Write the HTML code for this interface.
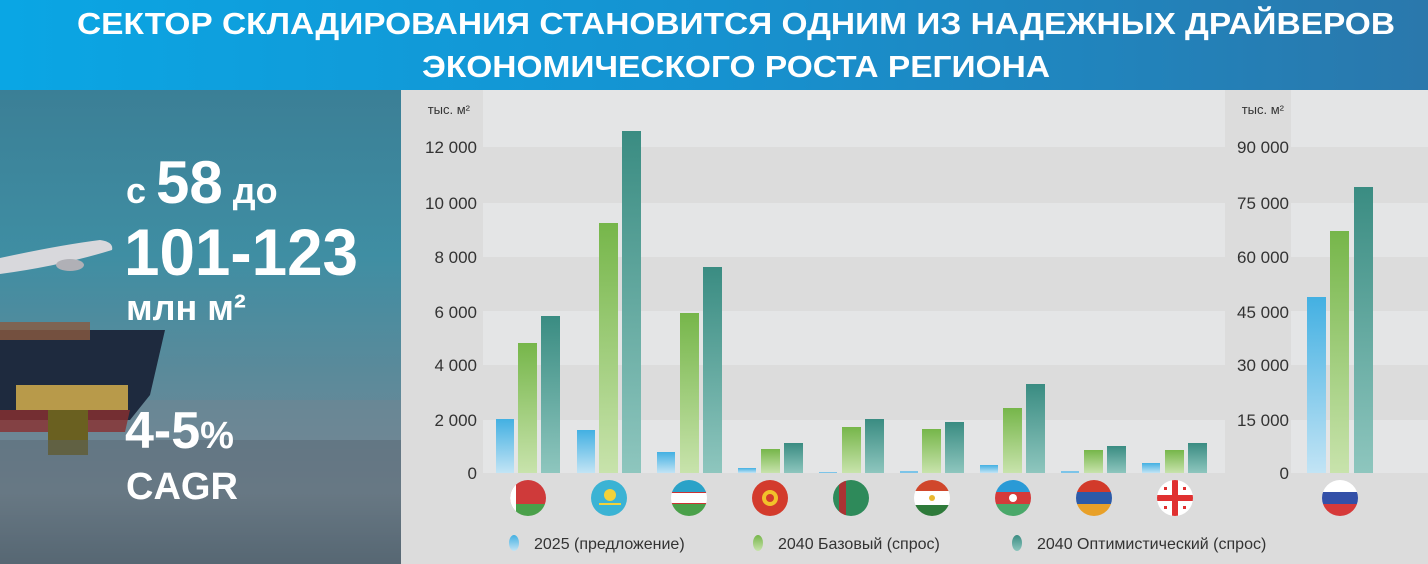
<!DOCTYPE html>
<html><head><meta charset="utf-8"><style>
html,body{margin:0;padding:0;width:1428px;height:564px;overflow:hidden;background:#dcdcdc}
svg{display:block}
</style></head><body>
<svg width="1428" height="564" viewBox="0 0 1428 564" xmlns="http://www.w3.org/2000/svg" font-family="'Liberation Sans', sans-serif">
<defs>
<linearGradient id="hdr" x1="0" x2="1" y1="0" y2="0"><stop offset="0" stop-color="#0aa6e4"/><stop offset="0.5" stop-color="#1692d0"/><stop offset="1" stop-color="#2a78ac"/></linearGradient>
<linearGradient id="sky" x1="0" x2="0" y1="0" y2="1"><stop offset="0" stop-color="#3b7f96"/><stop offset="0.35" stop-color="#3f8ea3"/><stop offset="0.6" stop-color="#5b8a9a"/><stop offset="0.75" stop-color="#6c8898"/><stop offset="0.85" stop-color="#7d8d99"/><stop offset="1" stop-color="#3e4e5c"/></linearGradient>
<linearGradient id="gb" x1="0" x2="0" y1="0" y2="1"><stop offset="0" stop-color="#43b0e2"/><stop offset="1" stop-color="#c2e4f5"/></linearGradient>
<linearGradient id="gg" x1="0" x2="0" y1="0" y2="1"><stop offset="0" stop-color="#76b64a"/><stop offset="1" stop-color="#c8e3ac"/></linearGradient>
<linearGradient id="gt" x1="0" x2="0" y1="0" y2="1"><stop offset="0" stop-color="#3a8c82"/><stop offset="1" stop-color="#8ec6be"/></linearGradient>
<clipPath id="c1"><circle cx="0" cy="0" r="18"/></clipPath>
</defs>
<rect x="0" y="0" width="1428" height="90" fill="url(#hdr)"/>
<text x="736" y="34" font-size="31" font-weight="bold" fill="#fff" text-anchor="middle" textLength="1318" lengthAdjust="spacingAndGlyphs">СЕКТОР СКЛАДИРОВАНИЯ СТАНОВИТСЯ ОДНИМ ИЗ НАДЕЖНЫХ ДРАЙВЕРОВ</text>
<text x="736" y="77" font-size="31" font-weight="bold" fill="#fff" text-anchor="middle" textLength="628" lengthAdjust="spacingAndGlyphs">ЭКОНОМИЧЕСКОГО РОСТА РЕГИОНА</text>
<!-- left photo -->
<rect x="0" y="90" width="401" height="474" fill="url(#sky)"/>
<rect x="0" y="400" width="401" height="164" fill="#6f8592" opacity="0.5"/>
<path d="M0 330 L165 330 L150 395 L130 420 L0 420 Z" fill="#1e2a3e"/>
<rect x="0" y="322" width="90" height="18" fill="#8a5a40" opacity="0.8"/>
<path d="M0 410 L130 410 L125 432 L0 432Z" fill="#8a2f2f" opacity="0.8"/>
<rect x="16" y="385" width="112" height="25" fill="#b89a4a"/>
<rect x="48" y="410" width="40" height="45" fill="#6a6020"/>
<path d="M0 258 Q60 245 100 240 Q114 242 112 250 Q60 266 0 274Z" fill="#d8d8dc"/>
<ellipse cx="70" cy="265" rx="14" ry="6" fill="#b0b0b6"/>
<path d="M0 440 L401 440 L401 564 L0 564Z" fill="#56636f" opacity="0.45"/>
<text x="126" y="203" font-size="36" font-weight="bold" fill="#fff">с <tspan font-size="60">58</tspan> до</text>
<text x="124" y="275" font-size="66" font-weight="bold" fill="#fff" textLength="234" lengthAdjust="spacingAndGlyphs">101-123</text>
<text x="126" y="320" font-size="36" font-weight="bold" fill="#fff">млн м²</text>
<text x="125" y="448" font-size="52" font-weight="bold" fill="#fff">4-5<tspan font-size="38">%</tspan></text>
<text x="126" y="499" font-size="38" font-weight="bold" fill="#fff">CAGR</text>
<!-- chart background -->
<rect x="401" y="90" width="1027" height="474" fill="#dcdcdc"/>
<g fill="#e4e5e6">
<rect x="483" y="90" width="742" height="57"/><rect x="483" y="203" width="742" height="54"/><rect x="483" y="311" width="742" height="54"/><rect x="483" y="420" width="742" height="53"/>
<rect x="1291" y="90" width="137" height="57"/><rect x="1291" y="203" width="137" height="54"/><rect x="1291" y="311" width="137" height="54"/><rect x="1291" y="420" width="137" height="53"/>
</g>
<g font-size="17" fill="#333" text-anchor="end">
<text x="470" y="114" font-size="13">тыс. м²</text>
<text x="477" y="153">12 000</text><text x="477" y="209">10 000</text><text x="477" y="263">8 000</text><text x="477" y="318">6 000</text><text x="477" y="371">4 000</text><text x="477" y="426">2 000</text><text x="477" y="479">0</text>
<text x="1284" y="114" font-size="13">тыс. м²</text>
<text x="1289" y="153">90 000</text><text x="1289" y="209">75 000</text><text x="1289" y="263">60 000</text><text x="1289" y="318">45 000</text><text x="1289" y="371">30 000</text><text x="1289" y="426">15 000</text><text x="1289" y="479">0</text>
</g>
<!-- bars -->
<g>
<rect x="496" y="419" width="18" height="54" fill="url(#gb)"/><rect x="518" y="343" width="19" height="130" fill="url(#gg)"/><rect x="541" y="316" width="19" height="157" fill="url(#gt)"/>
<rect x="577" y="430" width="18" height="43" fill="url(#gb)"/><rect x="599" y="223" width="19" height="250" fill="url(#gg)"/><rect x="622" y="131" width="19" height="342" fill="url(#gt)"/>
<rect x="657" y="452" width="18" height="21" fill="url(#gb)"/><rect x="680" y="313" width="19" height="160" fill="url(#gg)"/><rect x="703" y="267" width="19" height="206" fill="url(#gt)"/>
<rect x="738" y="468" width="18" height="5" fill="url(#gb)"/><rect x="761" y="449" width="19" height="24" fill="url(#gg)"/><rect x="784" y="443" width="19" height="30" fill="url(#gt)"/>
<rect x="819" y="472" width="18" height="1" fill="#7cc4e8"/><rect x="842" y="427" width="19" height="46" fill="url(#gg)"/><rect x="865" y="419" width="19" height="54" fill="url(#gt)"/>
<rect x="900" y="471" width="18" height="2" fill="#7cc4e8"/><rect x="922" y="429" width="19" height="44" fill="url(#gg)"/><rect x="945" y="422" width="19" height="51" fill="url(#gt)"/>
<rect x="980" y="465" width="18" height="8" fill="url(#gb)"/><rect x="1003" y="408" width="19" height="65" fill="url(#gg)"/><rect x="1026" y="384" width="19" height="89" fill="url(#gt)"/>
<rect x="1061" y="471" width="18" height="2" fill="#7cc4e8"/><rect x="1084" y="450" width="19" height="23" fill="url(#gg)"/><rect x="1107" y="446" width="19" height="27" fill="url(#gt)"/>
<rect x="1142" y="463" width="18" height="10" fill="url(#gb)"/><rect x="1165" y="450" width="19" height="23" fill="url(#gg)"/><rect x="1188" y="443" width="19" height="30" fill="url(#gt)"/>
<rect x="1307" y="297" width="19" height="176" fill="url(#gb)"/><rect x="1330" y="231" width="19" height="242" fill="url(#gg)"/><rect x="1354" y="187" width="19" height="286" fill="url(#gt)"/>
</g>
<!-- flags -->
<g transform="translate(528,498)"><g clip-path="url(#c1)"><rect x="-18" y="-18" width="36" height="24" fill="#cf3a3a"/><rect x="-18" y="6" width="36" height="12" fill="#4aa04a"/><rect x="-18" y="-18" width="6" height="36" fill="#fff"/></g></g>
<g transform="translate(609,498)"><g clip-path="url(#c1)"><rect x="-18" y="-18" width="36" height="36" fill="#3bb3d4"/><circle cx="1" cy="-3" r="6" fill="#f2d23a"/><rect x="-10" y="5" width="22" height="2" fill="#f2d23a"/></g></g>
<g transform="translate(689,498)"><g clip-path="url(#c1)"><rect x="-18" y="-18" width="36" height="12" fill="#2aa2c8"/><rect x="-18" y="-6" width="36" height="12" fill="#fff"/><rect x="-18" y="6" width="36" height="12" fill="#4aa04a"/><rect x="-18" y="-6" width="36" height="1" fill="#c33"/><rect x="-18" y="5" width="36" height="1" fill="#c33"/></g></g>
<g transform="translate(770,498)"><g clip-path="url(#c1)"><rect x="-18" y="-18" width="36" height="36" fill="#d33b2c"/><circle cx="0" cy="0" r="8" fill="#f2c22a"/><circle cx="0" cy="0" r="4" fill="#d33b2c"/></g></g>
<g transform="translate(851,498)"><g clip-path="url(#c1)"><rect x="-18" y="-18" width="36" height="36" fill="#2e8a5a"/><rect x="-12" y="-18" width="7" height="36" fill="#a33"/></g></g>
<g transform="translate(932,498)"><g clip-path="url(#c1)"><rect x="-18" y="-18" width="36" height="11" fill="#d0472c"/><rect x="-18" y="-7" width="36" height="14" fill="#fff"/><rect x="-18" y="7" width="36" height="11" fill="#2e7a3a"/><circle cx="0" cy="0" r="3" fill="#e8b830"/></g></g>
<g transform="translate(1013,498)"><g clip-path="url(#c1)"><rect x="-18" y="-18" width="36" height="12" fill="#2a9ad6"/><rect x="-18" y="-6" width="36" height="12" fill="#d43a3a"/><rect x="-18" y="6" width="36" height="12" fill="#4aa86a"/><circle cx="0" cy="0" r="4" fill="#fff"/></g></g>
<g transform="translate(1094,498)"><g clip-path="url(#c1)"><rect x="-18" y="-18" width="36" height="12" fill="#d23a2a"/><rect x="-18" y="-6" width="36" height="12" fill="#2c5aa8"/><rect x="-18" y="6" width="36" height="12" fill="#e8a028"/></g></g>
<g transform="translate(1175,498)"><g clip-path="url(#c1)"><rect x="-18" y="-18" width="36" height="36" fill="#fff"/><rect x="-18" y="-3" width="36" height="6" fill="#e03030"/><rect x="-3" y="-18" width="6" height="36" fill="#e03030"/><g fill="#e03030"><rect x="-11" y="-11" width="3" height="3"/><rect x="8" y="-11" width="3" height="3"/><rect x="-11" y="8" width="3" height="3"/><rect x="8" y="8" width="3" height="3"/></g></g></g>
<g transform="translate(1340,498)"><g clip-path="url(#c1)"><rect x="-18" y="-18" width="36" height="12" fill="#fff"/><rect x="-18" y="-6" width="36" height="12" fill="#3350a8"/><rect x="-18" y="6" width="36" height="12" fill="#d63a3a"/></g></g>
<!-- legend -->
<g font-size="16" fill="#333">
<ellipse cx="514" cy="543" rx="5" ry="8" fill="url(#gb)"/><text x="534" y="549">2025 (предложение)</text>
<ellipse cx="758" cy="543" rx="5" ry="8" fill="url(#gg)"/><text x="778" y="549">2040 Базовый (спрос)</text>
<ellipse cx="1017" cy="543" rx="5" ry="8" fill="url(#gt)"/><text x="1037" y="549">2040 Оптимистический (спрос)</text>
</g>
</svg>
</body></html>
